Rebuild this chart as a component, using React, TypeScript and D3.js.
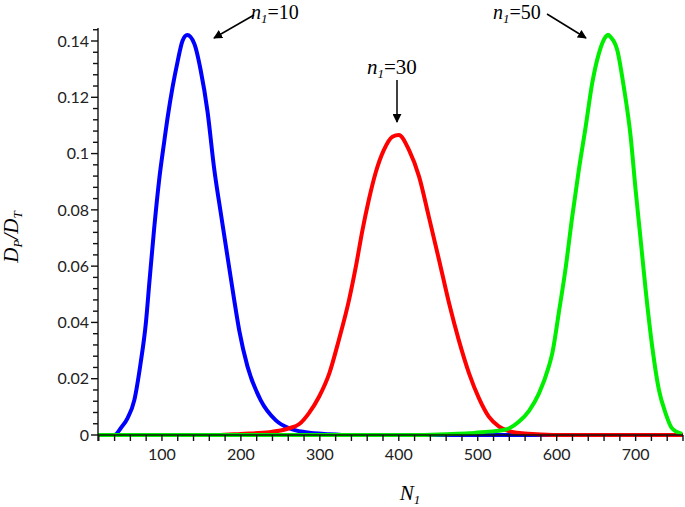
import React from "react";
import * as d3 from "d3";

// values
const blueX = [19, 30, 39.6, 48, 56.5, 65, 73, 79.7, 84, 90, 96.6, 103, 107, 113.4, 119.7, 126, 132, 141, 149, 157.7, 166, 175, 185, 191.5, 198, 208.4, 225, 244, 261, 282, 312, 340, 760];
const blueY = [0, 0, 0, 0.0025, 0.006, 0.0124, 0.0256, 0.04, 0.054, 0.073, 0.091, 0.1045, 0.1125, 0.1235, 0.1325, 0.14, 0.1421, 0.139, 0.1297, 0.115, 0.095, 0.078, 0.0598, 0.048, 0.037, 0.0243, 0.0124, 0.0053, 0.0024, 0.001, 0.0003, 0, 0];

const redX = [19, 170, 200, 236, 261, 274, 286, 299, 312, 324, 337, 345.6, 354, 362, 370.5, 381, 392, 400, 413, 425.7, 438, 451, 463.7, 476, 489, 501.6, 514, 527, 539.6, 556, 580, 610, 760];
const redY = [0, 0, 0.0004, 0.001, 0.0024, 0.0039, 0.0077, 0.0136, 0.0219, 0.0337, 0.048, 0.0598, 0.0728, 0.0835, 0.093, 0.1012, 0.106, 0.1066, 0.1012, 0.0918, 0.0776, 0.0622, 0.0468, 0.0337, 0.0219, 0.013, 0.0065, 0.003, 0.0014, 0.0006, 0.0002, 0, 0];

const greenX = [19, 420, 460, 489, 514, 527, 540, 552, 565, 577.6, 590, 594.4, 603, 611, 619.7, 628, 636.7, 645, 653.5, 662, 665, 668, 676.7, 685, 693.7, 700, 706, 712.7, 721, 729.5, 738, 746, 759];
const greenY = [0, 0, 0.0003, 0.0006, 0.0012, 0.0015, 0.0024, 0.0047, 0.0086, 0.0148, 0.0243, 0.029, 0.044, 0.0586, 0.0776, 0.0941, 0.1095, 0.125, 0.1356, 0.1415, 0.1422, 0.1415, 0.1368, 0.1237, 0.106, 0.087, 0.0704, 0.0515, 0.0314, 0.016, 0.0077, 0.0024, 0.0004];

const xTicks = [100, 200, 300, 400, 500, 600, 700];
const yTicks = [0, 0.02, 0.04, 0.06, 0.08, 0.1, 0.12, 0.14];
const yTickLabels = ["0", "0.02", "0.04", "0.06", "0.08", "0.1", "0.12", "0.14"];

const labelValues = ["10", "30", "50"];

export default function App() {
    const ref = React.useRef(null);
    React.useEffect(() => {
        const width = 685;
        const height = 507;
        const svg = d3.select(ref.current);
        svg.selectAll("*").remove();

        const x = d3.scaleLinear().domain([19, 760]).range([98, 683]);
        const y = d3.scaleLinear().domain([0, 0.14]).range([435, 41]);
        const yTop = y(0.1446);

        const defs = svg.append("defs");
        defs.append("marker")
            .attr("id", "arrow")
            .attr("viewBox", "0 0 10 10")
            .attr("refX", 9)
            .attr("refY", 5)
            .attr("markerWidth", 9)
            .attr("markerHeight", 9)
            .attr("markerUnits", "userSpaceOnUse")
            .attr("orient", "auto")
            .append("path")
            .attr("d", "M0,0L10,5L0,10z")
            .attr("fill", "black");

        const line = d3
            .line()
            .x((d) => x(d[0]))
            .y((d) => y(d[1]))
            .curve(d3.curveMonotoneX);

        const series = [
            { xs: blueX, ys: blueY, color: "#0000ff" },
            { xs: redX, ys: redY, color: "#ff0000" },
            { xs: greenX, ys: greenY, color: "#00ee00" },
        ];
        series.forEach((s) => {
            svg.append("path")
                .datum(s.xs.map((v, i) => [v, s.ys[i]]))
                .attr("fill", "none")
                .attr("stroke", s.color)
                .attr("stroke-width", 4)
                .attr("stroke-linejoin", "round")
                .attr("d", line);
        });

        // y axis
        const ax = svg.append("g").attr("stroke", "#111").attr("stroke-width", 1.4);
        ax.append("line").attr("x1", 98).attr("x2", 98).attr("y1", yTop).attr("y2", 441);
        d3.range(0, 0.1445, 0.004).forEach((v, i) => {
            ax.append("line")
                .attr("x1", i % 5 === 0 ? 91 : 93)
                .attr("x2", 98)
                .attr("y1", y(v))
                .attr("y2", y(v));
        });
        // x axis
        ax.append("line").attr("x1", 98).attr("x2", 683).attr("y1", 435).attr("y2", 435);
        d3.range(20, 761, 20).forEach((v) => {
            ax.append("line")
                .attr("x1", x(v))
                .attr("x2", x(v))
                .attr("y1", 435)
                .attr("y2", 441);
        });

        const font = "Lato, 'Open Sans', sans-serif";
        svg.append("g")
            .selectAll("text")
            .data(yTicks)
            .join("text")
            .attr("x", 89)
            .attr("y", (d) => y(d))
            .attr("dy", "0.36em")
            .attr("text-anchor", "end")
            .attr("font-family", font)
            .attr("font-size", 16)
            .attr("fill", "#222")
            .text((d, i) => yTickLabels[i]);

        svg.append("g")
            .selectAll("text")
            .data(xTicks)
            .join("text")
            .attr("x", (d) => x(d))
            .attr("y", 460)
            .attr("text-anchor", "middle")
            .attr("font-family", font)
            .attr("font-size", 16)
            .attr("fill", "#222")
            .text((d) => d);

        const serif = "'Liberation Serif', 'Times New Roman', serif";
        // axis titles
        const xt = svg.append("text")
            .attr("x", 410)
            .attr("y", 500)
            .attr("text-anchor", "middle")
            .attr("font-family", serif)
            .attr("font-size", 21)
            .attr("font-style", "italic");
        xt.append("tspan").text("N");
        xt.append("tspan").attr("font-size", 13).attr("dy", 4).text("1");

        const yt = svg.append("text")
            .attr("transform", "translate(18,237) rotate(-90)")
            .attr("text-anchor", "middle")
            .attr("font-family", serif)
            .attr("font-size", 21)
            .attr("font-style", "italic");
        yt.append("tspan").text("D");
        yt.append("tspan").attr("font-size", 13).attr("dy", 4).text("P");
        yt.append("tspan").attr("dy", -4).text("/D");
        yt.append("tspan").attr("font-size", 13).attr("dy", 4).text("T");

        // annotations
        const notes = [
            { tx: 251, ty: 19, size: 20, x1: 254, y1: 15, x2: 214, y2: 38 },
            { tx: 367, ty: 74, size: 21, x1: 397, y1: 80, x2: 397, y2: 122 },
            { tx: 493, ty: 19, size: 20, x1: 547, y1: 14, x2: 586, y2: 38 },
        ];
        notes.forEach((n, i) => {
            const t = svg.append("text")
                .attr("x", n.tx)
                .attr("y", n.ty)
                .attr("font-family", serif)
                .attr("font-size", n.size);
            t.append("tspan").attr("font-style", "italic").text("n");
            t.append("tspan").attr("font-style", "italic").attr("font-size", 13).attr("dy", 4).text("1");
            t.append("tspan").attr("dy", -4).text("=" + labelValues[i]);
            svg.append("line")
                .attr("x1", n.x1)
                .attr("y1", n.y1)
                .attr("x2", n.x2)
                .attr("y2", n.y2)
                .attr("stroke", "black")
                .attr("stroke-width", 1.5)
                .attr("marker-end", "url(#arrow)");
        });

        svg.attr("width", width).attr("height", height);
    }, []);

    return (
        <svg
            ref={ref}
            style={{ position: "absolute", left: 0, top: 0, background: "white" }}
        ></svg>
    );
}
